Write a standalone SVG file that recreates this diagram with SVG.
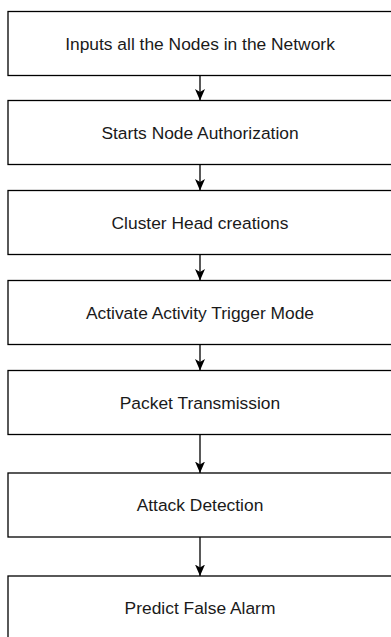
<svg xmlns="http://www.w3.org/2000/svg" width="391" height="637" viewBox="0 0 391 637">
  <style>
    .box { fill: #ffffff; stroke: #000000; stroke-width: 1.3; }
    .lbl { font-family: "Liberation Sans", Arial, sans-serif; font-size: 17.4px; fill: #1a1a1a; text-anchor: middle; }
    .edge { fill: none; stroke: #000000; stroke-width: 1.3; marker-end: url(#arrow); }
  </style>
  <defs>
    <marker id="arrow" markerUnits="userSpaceOnUse" markerWidth="12" markerHeight="12" viewBox="0 0 12 11" refX="11.5" refY="5.5" orient="auto">
      <path d="M0,0.5 L11.5,5.5 L0,10.5 L3,5.5 Z" fill="#000000"/>
    </marker>
  </defs>
  <rect width="391" height="637" fill="#ffffff"/>
  <g id="connectors">
    <line class="edge" x1="200" y1="75.5" x2="200" y2="100.5"/>
    <line class="edge" x1="200" y1="164.5" x2="200" y2="190.5"/>
    <line class="edge" x1="200" y1="254.5" x2="200" y2="280.5"/>
    <line class="edge" x1="200" y1="344.5" x2="200" y2="370.5"/>
    <line class="edge" x1="200" y1="434.5" x2="200" y2="473"/>
    <line class="edge" x1="200" y1="537" x2="200" y2="576"/>
  </g>
  <g id="n1">
    <rect class="box" x="8" y="11.5" width="384" height="64"/>
    <text class="lbl" x="200" y="49.5">Inputs all the Nodes in the Network</text>
  </g>
  <g id="n2">
    <rect class="box" x="8" y="100.5" width="384" height="64"/>
    <text class="lbl" x="200" y="138.5">Starts Node Authorization</text>
  </g>
  <g id="n3">
    <rect class="box" x="8" y="190.5" width="384" height="64"/>
    <text class="lbl" x="200" y="228.5">Cluster Head creations</text>
  </g>
  <g id="n4">
    <rect class="box" x="8" y="280.5" width="384" height="64"/>
    <text class="lbl" x="200" y="318.5">Activate Activity Trigger Mode</text>
  </g>
  <g id="n5">
    <rect class="box" x="8" y="370.5" width="384" height="64"/>
    <text class="lbl" x="200" y="408.5">Packet Transmission</text>
  </g>
  <g id="n6">
    <rect class="box" x="8" y="473" width="384" height="64"/>
    <text class="lbl" x="200" y="511">Attack Detection</text>
  </g>
  <g id="n7">
    <rect class="box" x="8" y="576" width="384" height="64"/>
    <text class="lbl" x="200" y="614">Predict False Alarm</text>
  </g>
</svg>
